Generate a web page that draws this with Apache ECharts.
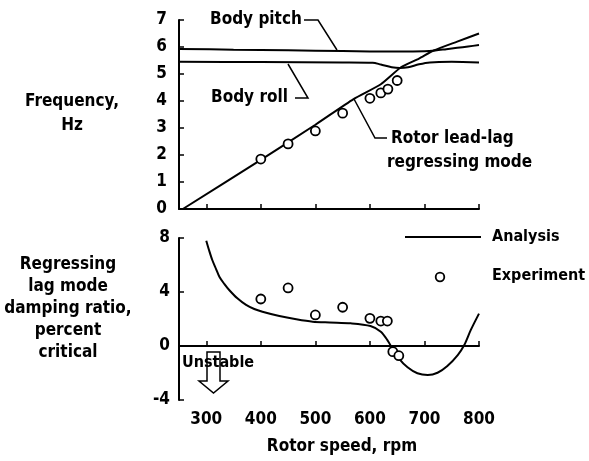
<!DOCTYPE html>
<html>
<head>
<meta charset="utf-8">
<script src="https://cdn.jsdelivr.net/npm/echarts@6/dist/echarts.min.js"></script>
<style>html,body{margin:0;padding:0;background:#fff}#c{width:589px;height:461px}</style>
</head>
<body>
<div id="c"></div>
<script>
// ---- Data ----
const xTicks = [300, 400, 500, 600, 700, 800];

// Top panel: frequency, Hz
const pitchRpm = [250, 350, 450, 550, 650, 700, 720, 740, 760, 780, 800];
const pitchHz  = [5.93, 5.9, 5.88, 5.85, 5.83, 5.84, 5.87, 5.92, 5.97, 6.02, 6.07];

const rollRpm = [250, 400, 550, 605, 620, 640, 655, 670, 690, 710, 750, 800];
const rollHz  = [5.45, 5.44, 5.43, 5.42, 5.35, 5.25, 5.22, 5.25, 5.36, 5.43, 5.45, 5.43];

const rotorRpm = [257, 400, 500, 570, 620, 657, 690, 717, 760, 800];
const rotorHz  = [0, 1.82, 3.12, 4.07, 4.62, 5.25, 5.57, 5.87, 6.2, 6.5];

const expRpmTop = [400, 450, 500, 550, 600, 620, 633, 650];
const expHzTop  = [1.85, 2.41, 2.89, 3.55, 4.1, 4.3, 4.44, 4.76];

// Bottom panel: damping ratio, percent critical
const dampRpm = [300, 305, 311, 318, 324, 333, 342, 357, 373, 388, 403, 434, 465, 495, 526, 565, 601, 620, 632, 641, 653, 669, 687, 706, 724, 742, 761, 773, 785, 800];
const dampPct = [7.8, 7.11, 6.37, 5.7, 5.13, 4.6, 4.15, 3.53, 3.04, 2.74, 2.54, 2.22, 1.98, 1.8, 1.74, 1.68, 1.48, 1.06, 0.44, -0.17, -0.91, -1.58, -2.02, -2.15, -1.98, -1.48, -0.67, 0.07, 1.19, 2.4];

const expRpmBot = [400, 450, 500, 550, 600, 620, 632, 642, 653];
const expPctBot = [3.48, 4.3, 2.3, 2.87, 2.05, 1.85, 1.85, -0.42, -0.72];

// ---- Chart ----
const FONT = "'DejaVu Sans Condensed', 'Liberation Sans Narrow', 'DejaVu Sans', sans-serif";
const zip = (a, b) => a.map((v, i) => [v, b[i]]);
const chart = echarts.init(document.getElementById('c'), null, {renderer: 'canvas'});

const axisLine = {show: true, lineStyle: {color: '#000', width: 2}};
const axisTick = {show: true, inside: true, length: 5, lineStyle: {color: '#000', width: 1.5}};
const labelStyle = {color: '#000', fontFamily: FONT, fontWeight: 'bold', fontSize: 17};

const lineSeries = (xi, yi, data, sm) => ({
  type: 'line', xAxisIndex: xi, yAxisIndex: yi, data, smooth: sm,
  symbol: 'none', lineStyle: {color: '#000', width: 2}, z: 3, silent: true
});
const scatterSeries = (xi, yi, data) => ({
  type: 'scatter', xAxisIndex: xi, yAxisIndex: yi, data, symbol: 'circle', symbolSize: 9,
  itemStyle: {color: '#fff', borderColor: '#000', borderWidth: 1.8, opacity: 1}, z: 4, silent: true
});

const text = (x, y, t, extra) => Object.assign({
  type: 'text', x, y, silent: true,
  style: Object.assign({text: t, fill: '#000', font: 'bold 17px ' + FONT, verticalAlign: 'middle', align: 'left'}, extra || {})
});
const poly = (pts) => ({type: 'polyline', silent: true, shape: {points: pts}, style: {stroke: '#000', lineWidth: 1.5, fill: null}});

chart.setOption({
  animation: false,
  backgroundColor: '#fff',
  grid: [
    {left: 179, width: 300, top: 20, height: 189},
    {left: 179, width: 300, top: 238, height: 162}
  ],
  xAxis: [
    {gridIndex: 0, type: 'value', min: 250, max: 800, axisLine, splitLine: {show: false},
     axisTick: Object.assign({customValues: xTicks}, axisTick), axisLabel: {show: false}},
    {gridIndex: 1, type: 'value', min: 250, max: 800, axisLine, splitLine: {show: false},
     axisTick: Object.assign({customValues: xTicks}, axisTick),
     axisLabel: Object.assign({customValues: xTicks, margin: 11}, labelStyle)}
  ],
  yAxis: [
    {gridIndex: 0, type: 'value', min: 0, max: 7, interval: 1, axisLine, axisTick, splitLine: {show: false},
     axisLabel: Object.assign({margin: 12}, labelStyle)},
    {gridIndex: 1, type: 'value', min: -4, max: 8, interval: 4, axisLine, axisTick, splitLine: {show: false},
     axisLabel: Object.assign({margin: 9}, labelStyle)}
  ],
  series: [
    lineSeries(0, 0, zip(pitchRpm, pitchHz), 0.3),
    lineSeries(0, 0, zip(rollRpm, rollHz), 0.3),
    lineSeries(0, 0, zip(rotorRpm, rotorHz), 0.2),
    scatterSeries(0, 0, zip(expRpmTop, expHzTop)),
    Object.assign(lineSeries(1, 1, zip(dampRpm, dampPct), 0.3), {
      markLine: {silent: true, symbol: ['none', 'none'], label: {show: false},
        lineStyle: {color: '#000', width: 1.5, type: 'solid'}, data: [{yAxis: 0}]}
    }),
    scatterSeries(1, 1, zip(expRpmBot, expPctBot))
  ],
  graphic: [
    // axis titles
    text(72, 114, 'Frequency,\nHz', {align: 'center', lineHeight: 24}),
    text(68, 309, 'Regressing\nlag mode\ndamping ratio,\npercent\ncritical', {align: 'center', lineHeight: 22}),
    text(342, 447, 'Rotor speed, rpm', {align: 'center'}),
    // top annotations
    text(210, 20, 'Body pitch'),
    poly([[304, 20], [318, 20], [337, 50]]),
    text(211, 98, 'Body roll'),
    poly([[295, 98], [308, 98], [288, 64]]),
    poly([[354, 99], [375, 138], [387, 138]]),
    text(391, 139, 'Rotor lead-lag'),
    text(387, 163, 'regressing mode'),
    // legend
    {type: 'line', silent: true, shape: {x1: 405, y1: 237, x2: 481, y2: 237}, style: {stroke: '#000', lineWidth: 2}},
    text(492, 237, 'Analysis', {font: 'bold 16px ' + FONT}),
    {type: 'circle', silent: true, shape: {cx: 440, cy: 277, r: 4.3}, style: {stroke: '#000', lineWidth: 1.8, fill: '#fff'}},
    text(492, 276, 'Experiment', {font: 'bold 16px ' + FONT}),
    // unstable annotation
    text(182, 363, 'Unstable', {font: 'bold 16px ' + FONT}),
    {type: 'polygon', silent: true, z: 10,
     shape: {points: [[207, 352], [220, 352], [220, 381], [228, 381], [213.5, 393], [199, 381], [207, 381]]},
     style: {stroke: '#000', lineWidth: 1.5, fill: null}}
  ]
});
</script>
</body>
</html>
